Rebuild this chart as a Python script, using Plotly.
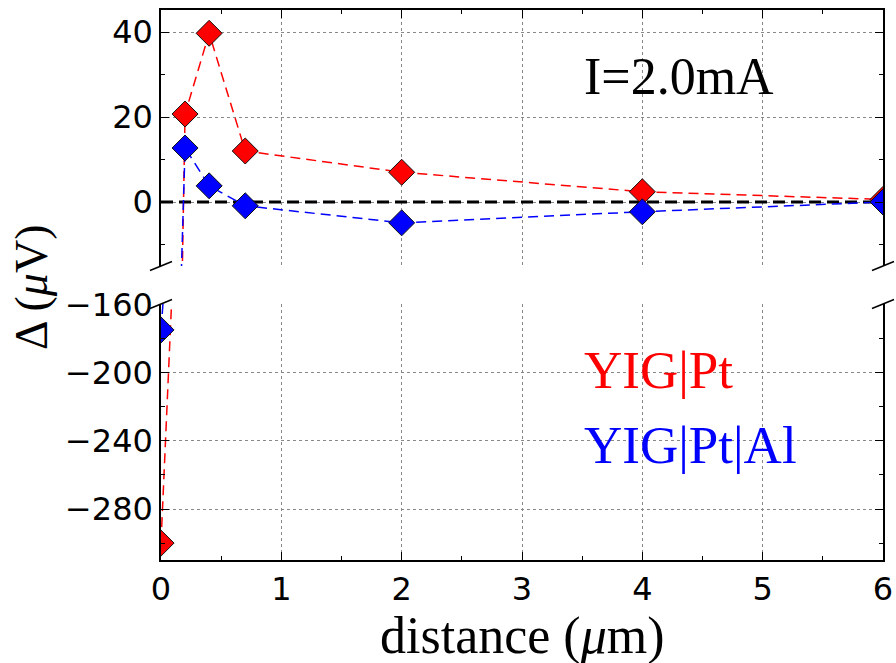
import plotly.graph_objects as go

# ---- data ----
distance = [0, 0.2, 0.4, 0.7, 2, 4, 6]
yig_pt = [-300, 20.7, 39.7, 12.0, 7.0, 2.4, 0.6]
yig_pt_al = [-175, 12.7, 3.8, -0.9, -4.9, -2.3, 0.0]

x_range = [0, 6]
x_ticks = [0, 1, 2, 3, 4, 5, 6]
x_minor = [0.5, 1.5, 2.5, 3.5, 4.5, 5.5]
top_ticks = [0, 20, 40]
top_minor = [-10, 10, 30]
bot_ticks = [-280, -240, -200, -160]
bot_ticktext = ["\u2212280", "\u2212240", "\u2212200", "\u2212160"]
bot_minor = [-300, -260, -220, -180]
zero_level = [0, 0]

RED = "#ff0000"
BLUE = "#0000ff"
SERIF = "Liberation Serif"
SANS = "DejaVu Sans"

W, H = 896, 663
ML, MR, MT, MB = 161, 13, 10, 103
PH = H - MT - MB
PW = W - ML - MR
top_dom = [(560 - 266) / PH, 1.0]
bot_dom = [0.0, (560 - 304) / PH]

fig = go.Figure()

# zero reference line in top panel
fig.add_trace(go.Scatter(x=x_range, y=zero_level, xaxis="x2", yaxis="y",
                         mode="lines", showlegend=False, hoverinfo="skip",
                         line=dict(color="black", width=3, dash="12px,6px")))

for yax, xax in (("y", "x2"), ("y2", "x")):
    for vals, col, name in ((yig_pt, RED, "YIG|Pt"), (yig_pt_al, BLUE, "YIG|Pt|Al")):
        fig.add_trace(go.Scatter(
            x=distance, y=vals, xaxis=xax, yaxis=yax, name=name,
            mode="lines+markers", showlegend=False,
            line=dict(color=col, width=1.5, dash="10px,6px"),
            marker=dict(symbol="diamond", size=20, color=col,
                        line=dict(color="#111", width=1)),
            cliponaxis=True,
        ))

grid = dict(showgrid=True, gridcolor="#888", griddash="dot", gridwidth=1)
axline = dict(showline=True, linecolor="black", linewidth=1.5, zeroline=False,
              ticks="inside", ticklen=8, tickwidth=1.2, tickcolor="black",
              automargin=False)
tfont = dict(family=SANS, size=32, color="black")

fig.update_layout(
    width=W, height=H,
    margin=dict(l=ML, r=MR, t=MT, b=MB, autoexpand=False),
    paper_bgcolor="white", plot_bgcolor="white",
    font=dict(family=SANS, size=28, color="black"),
    xaxis=dict(domain=[0, 1], anchor="y2", range=x_range, tickvals=x_ticks,
               minor=dict(tickvals=x_minor, ticks="inside", ticklen=4, tickcolor="black"),
               tickfont=tfont, **grid, **axline),
    xaxis2=dict(domain=[0, 1], anchor="y", matches="x", range=x_range, side="top",
                tickvals=x_ticks, showticklabels=False,
                minor=dict(tickvals=x_minor, ticks="inside", ticklen=4, tickcolor="black"),
                **grid, **axline),
    yaxis=dict(domain=top_dom, anchor="x2", range=[-15.06, 45.18], tickvals=top_ticks,
               mirror="ticks",
               minor=dict(tickvals=top_minor, ticks="inside", ticklen=4, tickcolor="black"),
               tickfont=tfont, **grid, **axline),
    yaxis2=dict(domain=bot_dom, anchor="x", range=[-309.9, -159.8], tickvals=bot_ticks,
                ticktext=bot_ticktext, mirror="ticks",
                minor=dict(tickvals=bot_minor, ticks="inside", ticklen=4, tickcolor="black"),
                tickfont=tfont, **grid, **axline),
)

# break marks
dx = 11 / PW
dy = 4.5 / PH
for xe in (0.0, 1.0):
    for ye in (top_dom[0], bot_dom[1]):
        fig.add_shape(type="line", xref="paper", yref="paper",
                      x0=xe - dx, y0=ye - dy, x1=xe + dx, y1=ye + dy,
                      line=dict(color="black", width=1.5))

# texts
fig.add_annotation(xref="x2", yref="y", x=3.5, y=29.5, xanchor="left", yanchor="middle",
                   text="I=2.0mA", showarrow=False,
                   font=dict(family=SERIF, size=52, color="black"))
fig.add_annotation(xref="x", yref="y2", x=3.5, y=-198.5, xanchor="left", yanchor="middle",
                   text="YIG|Pt", showarrow=False,
                   font=dict(family=SERIF, size=53, color=RED))
fig.add_annotation(xref="x", yref="y2", x=3.5, y=-242.5, xanchor="left", yanchor="middle",
                   text="YIG|Pt|Al", showarrow=False,
                   font=dict(family=SERIF, size=53, color=BLUE))
fig.add_annotation(xref="paper", yref="paper", x=0.5, y=-(636 - 560) / PH,
                   xanchor="center", yanchor="middle",
                   text="distance (<i>\u03bc</i>m)", showarrow=False,
                   font=dict(family=SERIF, size=52, color="black"))
fig.add_annotation(xref="paper", yref="paper", x=(31 - ML) / PW, y=(560 - 287) / PH,
                   xanchor="center", yanchor="middle", textangle=-90,
                   text="\u0394 (<i>\u03bc</i>V)", showarrow=False,
                   font=dict(family=SERIF, size=46, color="black"))

fig.write_html("out.html", config={"displayModeBar": False},
               post_script="document.body.style.margin='0px';")
